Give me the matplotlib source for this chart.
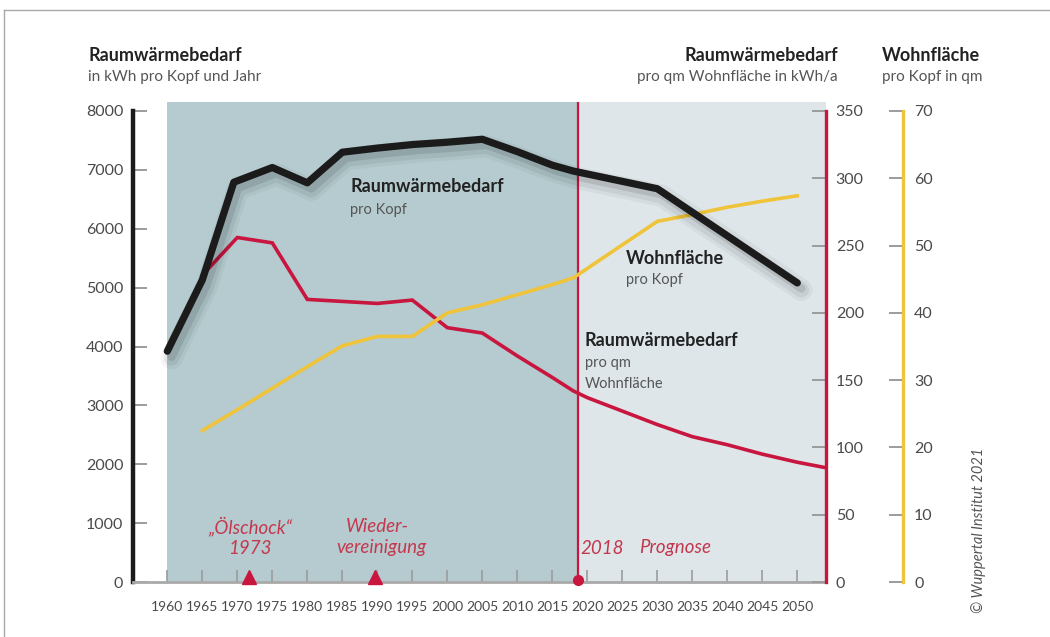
#!/usr/bin/env python3
# -*- coding: utf-8 -*-
"""Raumwärmebedarf pro Kopf / pro qm und Wohnfläche pro Kopf, 1960-2050."""

import matplotlib
matplotlib.use("Agg")
import matplotlib.pyplot as plt
import matplotlib.patheffects as pe
from matplotlib.lines import Line2D

# --- data ------------------------------------------------------------------
years_kopf = [1960, 1965, 1969.5, 1975, 1980, 1985, 1990, 1995, 2000, 2005,
              2010, 2015, 2018, 2030, 2035, 2040, 2045, 2050]
kwh_kopf = [3920, 5130, 6790, 7040, 6780, 7300, 7370, 7430, 7470, 7520,
            7310, 7080, 6980, 6680, 6280, 5880, 5480, 5080]

years_qm = [1965, 1970, 1975, 1980, 1985, 1990, 1995, 2000, 2005, 2010,
            2015, 2018, 2020, 2025, 2030, 2035, 2040, 2045, 2050, 2054]
kwh_qm = [228, 256, 252, 210, 208.5, 207, 209.5, 189, 185, 168,
          152, 142, 137, 127, 117, 108, 102, 95, 89, 85]

years_wf = [1965, 1970, 1975, 1980, 1985, 1990, 1995, 2000, 2005, 2010,
            2015, 2018, 2030, 2035, 2040, 2045, 2050]
wohnflaeche = [22.5, 25.6, 28.8, 32.0, 35.1, 36.5, 36.5, 40.0, 41.2, 42.7,
               44.2, 45.2, 53.6, 54.6, 55.7, 56.6, 57.4]

x_ticks = list(range(1960, 2051, 5))
left_ticks = list(range(0, 8001, 1000))
red_ticks = list(range(0, 351, 50))
yel_ticks = list(range(0, 71, 10))

year_start = 1960
year_split = 2018.7          # where the 2018 line sits in the picture
event_years = [1971.6, 1989.6]

# --- style -----------------------------------------------------------------
BLACK = "#1b1b1b"
RED = "#c8163f"
RED_TXT = "#c4384d"
YELLOW = "#f0c43a"
TEAL = "#b5cbcf"
LIGHT = "#dee6ea"
TICK = "#9c9c9c"
LABEL = "#4a4a4a"
SUB = "#555555"

plt.rcParams["font.family"] = ["Lato", "DejaVu Sans"]

W, H = 1050, 637


def fx(px):
    return px / W


def fy(py):
    return 1 - py / H


fig = plt.figure(figsize=(10.5, 6.37), dpi=100)
fig.patch.set_facecolor("white")

ax_l, ax_r, ax_b, ax_t = 133, 826, 582, 101.5
ax = fig.add_axes([fx(ax_l), fy(ax_b), (ax_r - ax_l) / W, (ax_b - ax_t) / H])
ax.set_xlim(1955.1, 2054.1)
top_frac = (ax_b - ax_t) / (ax_b - 111)      # 8000 tick sits at y=111
ax.set_ylim(0, 8000 * top_frac)

ax.axvspan(year_start, year_split, color=TEAL, lw=0, zorder=0)
ax.axvspan(year_split, 2054.1, color=LIGHT, lw=0, zorder=0)
ax.axvline(year_split, color=RED, lw=1.6, zorder=1)

for s in ["top", "right"]:
    ax.spines[s].set_visible(False)
ax.spines["left"].set_color(BLACK)
ax.spines["left"].set_linewidth(3.2)
ax.spines["left"].set_bounds(0, 8000)
ax.spines["bottom"].set_color("#a9a9a9")
ax.spines["bottom"].set_linewidth(2)
ax.set_yticks(left_ticks)
ax.set_xticks(x_ticks)
ax.set_xticklabels([str(x) for x in x_ticks], fontsize=10, color=LABEL)
ax.tick_params(axis="y", direction="in", length=10, width=1.4, color=TICK,
               pad=7, labelsize=11.5, labelcolor=LABEL)
ax.tick_params(axis="x", direction="in", length=8.5, width=1.2, color=TICK,
               pad=13.5)

# red axis: Raumwärmebedarf pro qm
ax_red = ax.twinx()
ax_red.set_ylim(0, 350 * top_frac)
ax_red.plot(years_qm, kwh_qm, color=RED, lw=2.6, solid_joinstyle="miter",
            clip_on=False)
for s in ["top", "left", "bottom"]:
    ax_red.spines[s].set_visible(False)
ax_red.spines["right"].set_color(RED)
ax_red.spines["right"].set_linewidth(2.4)
ax_red.spines["right"].set_bounds(0, 350)
ax_red.set_yticks(red_ticks)
ax_red.tick_params(axis="y", direction="in", length=10, width=1.4,
                   color=TICK, pad=7, labelsize=11.5, labelcolor=LABEL)

# yellow axis: Wohnfläche pro Kopf
ax_yel = ax.twinx()
ax_yel.set_ylim(0, 70 * top_frac)
ax_yel.plot(years_wf, wohnflaeche, color=YELLOW, lw=2.6,
            solid_joinstyle="miter")
for s in ["top", "left", "bottom"]:
    ax_yel.spines[s].set_visible(False)
ax_yel.spines["right"].set_position(("axes", (903 - ax_l) / (ax_r - ax_l)))
ax_yel.spines["right"].set_color(YELLOW)
ax_yel.spines["right"].set_linewidth(2.4)
ax_yel.spines["right"].set_bounds(0, 70)
ax_yel.set_yticks(yel_ticks)
ax_yel.tick_params(axis="y", direction="in", length=10, width=1.4,
                   color=TICK, pad=8, labelsize=11.5, labelcolor=LABEL)

# overlay for the black line so it sits on top of the other two
ax_top = ax.twinx()
ax_top.set_ylim(ax.get_ylim())
ax_top.axis("off")
shadow = [
    pe.SimpleLineShadow(offset=(3, -5), shadow_color="k", alpha=0.04,
                        linewidth=16),
    pe.SimpleLineShadow(offset=(3, -5), shadow_color="k", alpha=0.06,
                        linewidth=11),
    pe.SimpleLineShadow(offset=(3, -4), shadow_color="k", alpha=0.10,
                        linewidth=6),
    pe.Normal(),
]
ax_top.plot(years_kopf, kwh_kopf, color=BLACK, lw=5.2,
            solid_capstyle="round", solid_joinstyle="round",
            path_effects=shadow)
ax_top.plot(event_years, [90] * len(event_years), "^", color=RED, ms=10,
            clip_on=False)
ax_top.plot([year_split], [40], "o", color=RED, ms=7, clip_on=False)

# --- texts -----------------------------------------------------------------
def head(x, y, s, ha="left"):
    fig.text(fx(x), fy(y), s, ha=ha, va="baseline", fontsize=13,
             fontweight="bold", color="#222222")


def sub(x, y, s, ha="left", size=11):
    fig.text(fx(x), fy(y), s, ha=ha, va="baseline", fontsize=size, color=SUB)


head(88, 61, "Raumwärmebedarf")
sub(88, 81, "in kWh pro Kopf und Jahr")
head(838, 61, "Raumwärmebedarf", ha="right")
sub(838, 81, "pro qm Wohnfläche in kWh/a", ha="right")
head(882, 61, "Wohnfläche")
sub(882, 81, "pro Kopf in qm")

head(350, 192, "Raumwärmebedarf")
sub(350, 214, "pro Kopf", size=10.5)
head(626, 264, "Wohnfläche")
sub(626, 284, "pro Kopf", size=10.5)
head(585, 346, "Raumwärmebedarf")
sub(585, 367, "pro qm", size=10.5)
sub(585, 388, "Wohnfläche", size=10.5)

ev = dict(fontsize=13.5, style="italic", color=RED_TXT, va="center")
fig.text(fx(250), fy(526), "\u201eÖlschock\u201c", ha="center", **ev)
fig.text(fx(250), fy(548), "1973", ha="center", **ev)
fig.text(fx(377), fy(526), "Wieder-", ha="center", **ev)
fig.text(fx(381), fy(548), "vereinigung", ha="center", **ev)
fig.text(fx(580), fy(548), "2018", ha="left", **ev)
fig.text(fx(639), fy(548), "Prognose", ha="left", **ev)

fig.text(fx(979), fy(530), "© Wuppertal Institut 2021", rotation=90,
         ha="center", va="center", fontsize=10.5, style="italic",
         color=SUB)

# thin frame at top and left
fig.add_artist(Line2D([fx(4), 1], [fy(10), fy(10)], color="#a8a8a8", lw=1))
fig.add_artist(Line2D([fx(4), fx(4)], [0, fy(10)], color="#a8a8a8", lw=1))

fig.savefig("out.png", dpi=100)
